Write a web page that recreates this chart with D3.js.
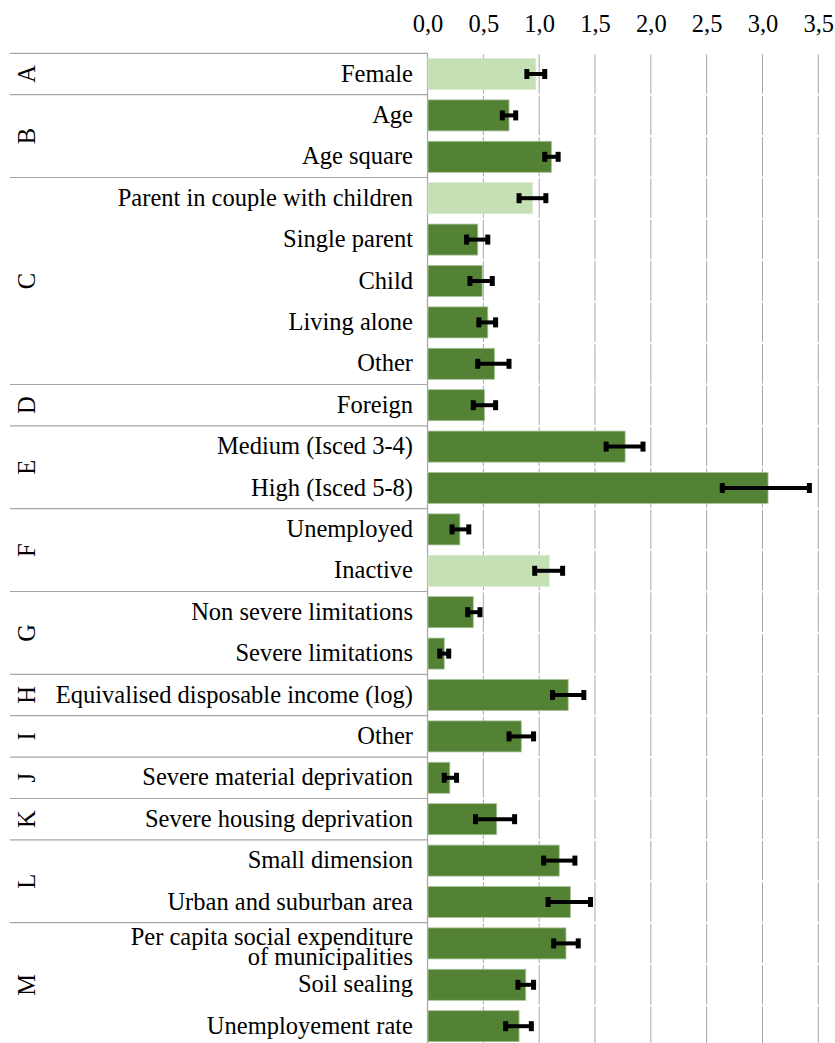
<!DOCTYPE html>
<html>
<head>
<meta charset="utf-8">
<script src="https://cdn.jsdelivr.net/npm/d3@7/dist/d3.min.js"></script>
<style>
  html, body { margin: 0; padding: 0; background: #fff; }
  svg { display: block; }
  text { font-family: "Liberation Serif", "Times New Roman", serif; fill: #000; }
</style>
</head>
<body>
<div id="chart"></div>
<script>
// ---- data ----
const categories = [
  "Female", "Age", "Age square", "Parent in couple with children", "Single parent",
  "Child", "Living alone", "Other", "Foreign", "Medium (Isced 3-4)", "High (Isced 5-8)",
  "Unemployed", "Inactive", "Non severe limitations", "Severe limitations",
  "Equivalised disposable income (log)", "Other", "Severe material deprivation",
  "Severe housing deprivation", "Small dimension", "Urban and suburban area",
  "Per capita social expenditure|of municipalities", "Soil sealing", "Unemployement rate"
];
const values = [0.97, 0.73, 1.11, 0.94, 0.45, 0.49, 0.54, 0.60, 0.51, 1.77, 3.05,
  0.29, 1.09, 0.41, 0.15, 1.26, 0.84, 0.20, 0.62, 1.18, 1.28, 1.24, 0.88, 0.82];
const errLow = [0.89, 0.67, 1.05, 0.82, 0.35, 0.38, 0.46, 0.45, 0.41, 1.60, 2.64,
  0.22, 0.96, 0.36, 0.11, 1.12, 0.73, 0.15, 0.43, 1.04, 1.08, 1.13, 0.81, 0.70];
const errHigh = [1.05, 0.79, 1.17, 1.06, 0.54, 0.58, 0.61, 0.73, 0.61, 1.93, 3.42,
  0.37, 1.21, 0.47, 0.19, 1.40, 0.95, 0.26, 0.78, 1.32, 1.46, 1.35, 0.95, 0.93];
const referenceFlag = [1, 0, 0, 1, 0, 0, 0, 0, 0, 0, 0, 0, 1, 0, 0, 0, 0, 0, 0, 0, 0, 0, 0, 0];
const groupNames = ["A", "B", "C", "D", "E", "F", "G", "H", "I", "J", "K", "L", "M"];
const groupStart = [0, 1, 3, 8, 9, 11, 13, 15, 16, 17, 18, 19, 21];
const groupEnd =   [1, 3, 8, 9, 11, 13, 15, 16, 17, 18, 19, 21, 24];
const tickValues = [0, 0.5, 1, 1.5, 2, 2.5, 3, 3.5];

// ---- layout ----
const W = 835, H = 1043;
const plotLeft = 427.5, plotRight = 818.3, plotTop = 53.3, rowStep = 41.4;
const plotBottom = plotTop + rowStep * categories.length;
const labelLeft = 10;
const fs = 24.5;

const svg = d3.select("#chart").append("svg").attr("width", W).attr("height", H);

const x = d3.scaleLinear().domain([0, 3.5]).range([plotLeft, plotRight]);
const idx = categories.map((d, i) => i);
const y = d3.scaleBand().domain(idx).range([plotTop, plotBottom]).paddingInner(0.25).paddingOuter(0.125);

const gridColor = "#a6a6a6";
const darkGreen = "#548235", lightGreen = "#c5e0b4";

// gridlines (segmented per row, as in the reference)
const gridG = svg.append("g");
tickValues.filter(t => t > 0).forEach(t => {
  idx.forEach(i => {
    const y0 = plotTop + i * y.step();
    gridG.append("line")
      .attr("x1", x(t)).attr("x2", x(t))
      .attr("y1", y0 + 1).attr("y2", y0 + y.step() - 1)
      .attr("stroke", gridColor).attr("stroke-width", 1);
  });
});

// top axis labels
const axis = d3.axisTop(x).tickValues(tickValues).tickSize(0).tickPadding(0)
  .tickFormat(d => d3.format(".1f")(d).replace(".", ","));
const axG = svg.append("g").attr("transform", `translate(0,32)`).call(axis);
axG.select(".domain").remove();
axG.selectAll("text").attr("font-size", fs).attr("font-family", "Liberation Serif").attr("dy", 0).attr("fill", "#000");

// group separators
const sepG = svg.append("g");
const boundaries = [0].concat(groupEnd);
boundaries.forEach(b => {
  const yy = plotTop + b * y.step();
  sepG.append("line").attr("x1", labelLeft).attr("x2", plotLeft)
    .attr("y1", yy).attr("y2", yy).attr("stroke", gridColor).attr("stroke-width", 1.2);
});
// axis line
svg.append("line").attr("x1", plotLeft).attr("x2", plotLeft).attr("y1", plotTop).attr("y2", plotBottom)
  .attr("stroke", gridColor).attr("stroke-width", 1.2);

// group letters
groupNames.forEach((g, k) => {
  const cy = plotTop + (groupStart[k] + groupEnd[k]) / 2 * y.step();
  svg.append("text").attr("transform", `translate(27,${cy}) rotate(-90)`)
    .attr("text-anchor", "middle").attr("dy", "0.33em").attr("font-size", fs).text(g);
});

// category labels
idx.forEach(i => {
  const cy = y(i) + y.bandwidth() / 2;
  const parts = categories[i].split("|");
  const t = svg.append("text").attr("text-anchor", "end").attr("font-size", fs);
  if (parts.length === 1) {
    t.attr("x", 413).attr("y", cy + 7.5).text(parts[0]);
  } else {
    t.append("tspan").attr("x", 413).attr("y", cy + 1.5).text(parts[0]);
    t.append("tspan").attr("x", 413).attr("y", cy + 21.5).text(parts[1]);
  }
});

// bars
svg.append("g").selectAll("rect").data(idx).join("rect")
  .attr("x", x(0) + 0.5)
  .attr("y", i => y(i))
  .attr("width", i => x(values[i]) - x(0) - 0.5)
  .attr("height", y.bandwidth())
  .attr("fill", i => referenceFlag[i] ? lightGreen : darkGreen)
  .attr("stroke", i => referenceFlag[i] ? "#d9ead0" : "#a9c49a")
  .attr("stroke-width", 0.8);

// error bars
const eg = svg.append("g");
idx.forEach(i => {
  const cy = y(i) + y.bandwidth() / 2;
  eg.append("line").attr("x1", x(errLow[i])).attr("x2", x(errHigh[i]))
    .attr("y1", cy).attr("y2", cy).attr("stroke", "#000").attr("stroke-width", 4);
  [errLow[i], errHigh[i]].forEach(v => {
    eg.append("rect").attr("x", x(v) - 2.5).attr("y", cy - 5)
      .attr("width", 5).attr("height", 10).attr("fill", "#000");
  });
});
</script>
</body>
</html>
